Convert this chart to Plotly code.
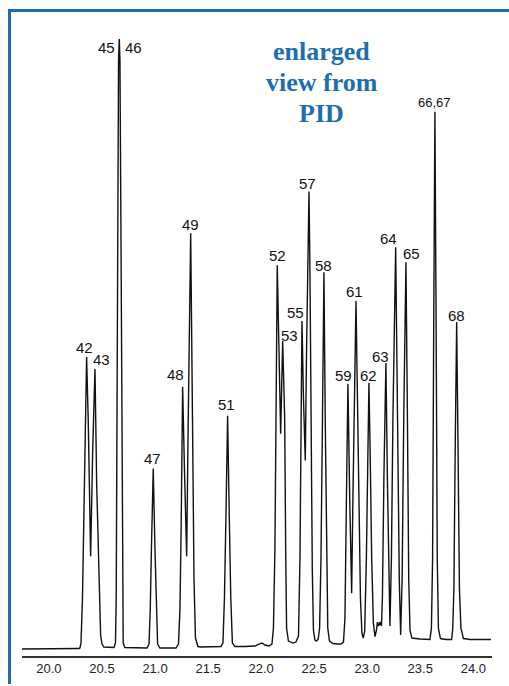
import plotly.graph_objects as go

# chromatogram trace (retention time, min / detector signal, a.u.)
time = [19.746, 20.009, 20.283,
        20.292, 20.302, 20.316, 20.335, 20.355, 20.370, 20.393, 20.412, 20.434, 20.450,
        20.471, 20.487, 20.500, 20.518,
        20.613, 20.627, 20.634, 20.641, 20.648, 20.656, 20.663, 20.669, 20.677, 20.685,
        20.692, 20.700, 20.716, 20.829,
        20.924, 20.943, 20.955, 20.966, 20.983, 20.999, 21.011, 21.024, 21.046, 21.122,
        21.197, 21.221, 21.235, 21.246, 21.260, 21.277, 21.298, 21.313, 21.336, 21.353,
        21.367, 21.381, 21.404, 21.433, 21.517,
        21.621, 21.640, 21.654, 21.668, 21.684, 21.700, 21.714, 21.729, 21.753,
        21.847, 21.942, 21.979, 22.008, 22.036, 22.074,
        22.102, 22.116, 22.130, 22.142, 22.152, 22.168, 22.184, 22.203, 22.222, 22.232,
        22.240, 22.257, 22.300, 22.328, 22.352, 22.366, 22.377, 22.385, 22.399, 22.416,
        22.427, 22.441, 22.451, 22.460, 22.469, 22.482, 22.493, 22.507, 22.523,
        22.538, 22.551, 22.564, 22.578, 22.592, 22.604, 22.616, 22.628, 22.644, 22.677,
        22.724, 22.752,
        22.776, 22.790, 22.804, 22.818, 22.835, 22.853, 22.865, 22.880, 22.894, 22.905,
        22.918, 22.936, 22.950, 22.962, 22.976, 22.992, 23.007, 23.016, 23.027, 23.042,
        23.058, 23.073, 23.087, 23.096, 23.107, 23.120, 23.134, 23.143, 23.157, 23.176,
        23.190, 23.205, 23.214, 23.228, 23.242, 23.268, 23.285, 23.302, 23.315, 23.329,
        23.344, 23.365, 23.379, 23.391, 23.403, 23.421, 23.497, 23.591,
        23.605, 23.616, 23.627, 23.638, 23.649, 23.660, 23.671, 23.690, 23.742, 23.796,
        23.806, 23.817, 23.829, 23.843, 23.856, 23.869, 23.883, 23.907, 23.968, 24.166]
signal = [7, 7, 7.5,
          8, 13, 58, 178, 300, 238, 100, 205, 288, 172,
          68, 21, 12, 9,
          8.5, 13, 58, 238, 458, 598, 619, 598, 458, 238,
          58, 13, 8.5, 8,
          8, 12, 48, 108, 188, 108, 48, 12, 8, 8,
          8, 12, 48, 128, 270, 188, 100, 238, 424, 238,
          78, 18, 9.5, 9, 9.5,
          9.5, 13, 58, 138, 241, 138, 58, 13, 9.5,
          9.5, 10, 12, 13, 11, 10,
          12, 28, 108, 258, 392, 308, 223, 316, 238, 98,
          28, 15, 13, 14, 20, 98, 238, 336, 258, 196,
          298, 418, 466, 388, 238, 88, 26, 16, 15,
          17, 28, 98, 238, 385, 238, 98, 28, 15, 12.5,
          12, 12,
          14, 38, 158, 273, 158, 63, 158, 278, 356, 278,
          178, 58, 23, 18, 25, 98, 208, 274, 208, 98,
          33, 19.5, 26, 34, 30, 34, 30, 58, 178, 294,
          178, 68, 30, 98, 238, 410, 238, 78, 21, 78,
          238, 395, 238, 78, 26, 18, 17, 16.5,
          28, 98, 338, 546, 338, 98, 28, 17.5, 16.5, 16.5,
          28, 68, 208, 335, 208, 68, 28, 17.5, 16.5, 16.5]

# peak numbers with apex positions
peak_labels = ['42', '43', '45', '46', '47', '48', '49', '51', '52', '53', '55',
               '57', '58', '59', '61', '62', '63', '64', '65', '66,67', '68']
peak_times = [20.355, 20.434, 20.663, 20.663, 20.983, 21.260, 21.336, 21.684, 22.152,
              22.203, 22.385, 22.451, 22.592, 22.818, 22.894, 23.016, 23.176, 23.268,
              23.365, 23.638, 23.843]
peak_heights = [300, 288, 619, 619, 188, 270, 424, 241, 392, 316, 336, 466, 385, 273,
                356, 274, 294, 410, 395, 546, 335]

ticks = [20.0, 20.5, 21.0, 21.5, 22.0, 22.5, 23.0, 23.5, 24.0]
title_lines = ['enlarged', 'view from', 'PID']

# label nudges in px (x, y) so the numbers sit where they do in the print
label_shift = {'42': (-2, 9), '43': (7, 9), '45': (-13, -9), '46': (14, -9),
               '47': (-1, 10), '48': (-7, 12), '49': (0, 9), '51': (-1, 11),
               '52': (0, 10), '53': (7, 5), '55': (-6, 9), '57': (-1, 8),
               '58': (0, 7), '59': (-4, 8), '61': (-1, 10), '62': (0, 7),
               '63': (-5, 6), '64': (-7, 9), '65': (6, 9), '66,67': (0, 9), '68': (0, 7)}

BLUE = '#1c6db2'

fig = go.Figure()
fig.add_trace(go.Scatter(
    x=time, y=signal,
    mode='lines',
    line=dict(color='#111111', width=1.4),
    hoverinfo='skip',
    showlegend=False
))

for lab, t, h in zip(peak_labels, peak_times, peak_heights):
    dx, dy = label_shift[lab]
    fig.add_annotation(
        x=t, y=h, text=lab, showarrow=False,
        xanchor='center', yanchor='middle',
        xshift=dx, yshift=dy,
        font=dict(family='Liberation Sans, Arial', size=13 if ',' in lab else 15,
                  color='#111111')
    )

# blue heading, one line per annotation to keep the tight spacing
for i, line in enumerate(title_lines):
    fig.add_annotation(
        x=0.638, y=0.935 - i * 0.0475, xref='paper', yref='paper',
        text='<b>' + line + '</b>', showarrow=False,
        xanchor='center', yanchor='middle',
        font=dict(family='Liberation Serif, Times New Roman', size=26, color=BLUE)
    )

# frame: only its top and left edges fall inside the picture
fig.add_shape(type='line', xref='paper', yref='paper',
              x0=-0.0266, x1=-0.0266, y0=1.0, y1=-0.0432,
              line=dict(color=BLUE, width=3))
fig.add_shape(type='line', xref='paper', yref='paper',
              x0=-0.0298, x1=1.0362, y0=0.9992, y1=0.9992,
              line=dict(color=BLUE, width=3))

fig.update_layout(
    width=509, height=686,
    margin=dict(l=22, r=17, t=10, b=28),
    paper_bgcolor='white',
    plot_bgcolor='white',
    xaxis=dict(
        range=[19.746, 24.176],
        showline=True, linecolor='#333333', linewidth=1.5,
        showgrid=False, zeroline=False,
        ticks='',
        tickvals=ticks,
        ticktext=['%.1f' % v for v in ticks],
        tickfont=dict(family='Liberation Sans, Arial', size=13, color='#222222'),
    ),
    yaxis=dict(range=[0, 648], visible=False),
)
fig.write_html('out.html', config={'displayModeBar': False},
               post_script="document.body.style.margin='0';document.body.style.overflow='hidden';")
